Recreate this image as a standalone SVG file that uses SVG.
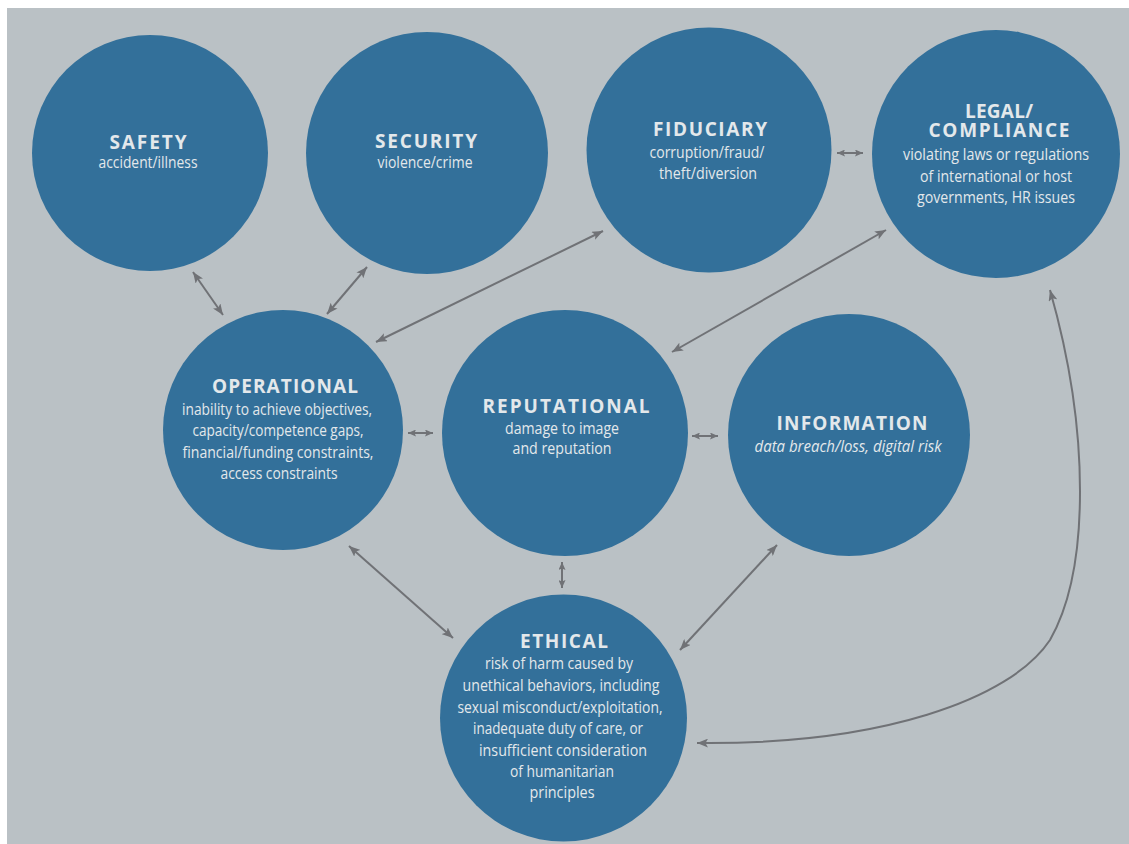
<svg xmlns="http://www.w3.org/2000/svg" width="1129" height="844" viewBox="0 0 1129 844">
<style>
.c{fill:#33709a}
.t{font-family:"Open Sans","Liberation Sans",sans-serif;font-weight:700;font-size:19px;fill:#e3e8eb;text-anchor:middle}
.s{font-family:"Open Sans","Liberation Sans",sans-serif;font-weight:400;font-size:17px;fill:#e3e8eb;text-anchor:middle}
.i{font-style:italic}
.a{fill:none;stroke:#707276;stroke-width:2;marker-start:url(#ah);marker-end:url(#ah)}
.b{fill:none;stroke:#707276;stroke-width:2;marker-start:url(#as);marker-end:url(#as)}
</style>
<defs>
<marker id="ah" markerUnits="userSpaceOnUse" viewBox="0 0 11 9" markerWidth="11" markerHeight="9" refX="11" refY="4.5" orient="auto-start-reverse">
<path d="M0,0 L11,4.5 L0,9 L2.5,4.5 z" fill="#707276"/>
</marker>
<marker id="as" markerUnits="userSpaceOnUse" viewBox="0 0 8 7" markerWidth="8" markerHeight="7" refX="8" refY="3.5" orient="auto-start-reverse">
<path d="M0,0 L8,3.5 L0,7 L1.5,3.5 z" fill="#707276"/>
</marker>
</defs>
<rect x="0" y="0" width="1129" height="844" fill="#ffffff"/>
<rect x="7" y="8" width="1122" height="836" fill="#bac1c5"/>

<g id="connectors">
<line class="a" x1="193" y1="272" x2="223" y2="315"/>
<line class="a" x1="367" y1="267" x2="327" y2="314"/>
<line class="a" x1="603" y1="231" x2="376" y2="342"/>
<line class="b" x1="837" y1="153" x2="863" y2="153"/>
<line class="a" x1="886" y1="230" x2="672" y2="352"/>
<line class="b" x1="408" y1="433" x2="433" y2="433"/>
<line class="b" x1="692" y1="436" x2="718" y2="436"/>
<line class="a" x1="349" y1="546" x2="453" y2="638"/>
<line class="b" x1="562" y1="562" x2="562" y2="588"/>
<line class="a" x1="777" y1="545" x2="680" y2="650"/>
<path class="a" d="M697,743 C880,745 1010,700 1050,640 C1090,570 1090,430 1050,290"/>
</g>

<g id="safety">
<circle class="c" cx="150" cy="153" r="118"/>
<text class="t" x="148" y="149" textLength="77" lengthAdjust="spacing">SAFETY</text>
<text class="s" x="148" y="168" textLength="99" lengthAdjust="spacingAndGlyphs">accident/illness</text>
</g>

<g id="security">
<circle class="c" cx="427" cy="153" r="121"/>
<text class="t" x="426" y="148" textLength="102" lengthAdjust="spacing">SECURITY</text>
<text class="s" x="425" y="168" textLength="95" lengthAdjust="spacingAndGlyphs">violence/crime</text>
</g>

<g id="fiduciary">
<circle class="c" cx="709" cy="150" r="122.5"/>
<text class="t" x="710" y="136" textLength="114" lengthAdjust="spacing">FIDUCIARY</text>
<text class="s" x="707" y="158" textLength="115" lengthAdjust="spacingAndGlyphs">corruption/fraud/</text>
<text class="s" x="708" y="179" textLength="98" lengthAdjust="spacingAndGlyphs">theft/diversion</text>
</g>

<g id="legal">
<circle class="c" cx="996" cy="154" r="124"/>
<text class="t" x="999" y="118" textLength="68" lengthAdjust="spacing">LEGAL/</text>
<text class="t" x="999" y="137" textLength="141" lengthAdjust="spacing">COMPLIANCE</text>
<text class="s" x="996" y="160" textLength="186" lengthAdjust="spacingAndGlyphs">violating laws or regulations</text>
<text class="s" x="996" y="182" textLength="152" lengthAdjust="spacingAndGlyphs">of international or host</text>
<text class="s" x="996" y="203" textLength="158" lengthAdjust="spacingAndGlyphs">governments, HR issues</text>
</g>

<g id="operational">
<circle class="c" cx="283" cy="430" r="120"/>
<text class="t" x="285" y="393" textLength="146" lengthAdjust="spacing">OPERATIONAL</text>
<text class="s" x="277" y="415" textLength="190" lengthAdjust="spacingAndGlyphs">inability to achieve objectives,</text>
<text class="s" x="278" y="436" textLength="171" lengthAdjust="spacingAndGlyphs">capacity/competence gaps,</text>
<text class="s" x="278" y="458" textLength="191" lengthAdjust="spacingAndGlyphs">financial/funding constraints,</text>
<text class="s" x="279" y="479" textLength="117" lengthAdjust="spacingAndGlyphs">access constraints</text>
</g>

<g id="reputational">
<circle class="c" cx="565" cy="433" r="123"/>
<text class="t" x="566" y="413" textLength="167" lengthAdjust="spacing">REPUTATIONAL</text>
<text class="s" x="562" y="434" textLength="114" lengthAdjust="spacingAndGlyphs">damage to image</text>
<text class="s" x="562" y="454" textLength="99" lengthAdjust="spacingAndGlyphs">and reputation</text>
</g>

<g id="information">
<circle class="c" cx="849" cy="435" r="121"/>
<text class="t" x="852" y="430" textLength="151" lengthAdjust="spacing">INFORMATION</text>
<text class="s i" x="848" y="452" textLength="187" lengthAdjust="spacingAndGlyphs">data breach/loss, digital risk</text>
</g>

<g id="ethical">
<circle class="c" cx="563.5" cy="718" r="123.5"/>
<text class="t" x="564" y="648" textLength="88" lengthAdjust="spacing">ETHICAL</text>
<text class="s" x="559" y="669" textLength="148" lengthAdjust="spacingAndGlyphs">risk of harm caused by</text>
<text class="s" x="561" y="691" textLength="197" lengthAdjust="spacingAndGlyphs">unethical behaviors, including</text>
<text class="s" x="560" y="713" textLength="205" lengthAdjust="spacingAndGlyphs">sexual misconduct/exploitation,</text>
<text class="s" x="558" y="734" textLength="170" lengthAdjust="spacingAndGlyphs">inadequate duty of care, or</text>
<text class="s" x="563" y="756" textLength="168" lengthAdjust="spacingAndGlyphs">insufficient consideration</text>
<text class="s" x="562" y="777" textLength="104" lengthAdjust="spacingAndGlyphs">of humanitarian</text>
<text class="s" x="562" y="798" textLength="65" lengthAdjust="spacingAndGlyphs">principles</text>
</g>
</svg>
